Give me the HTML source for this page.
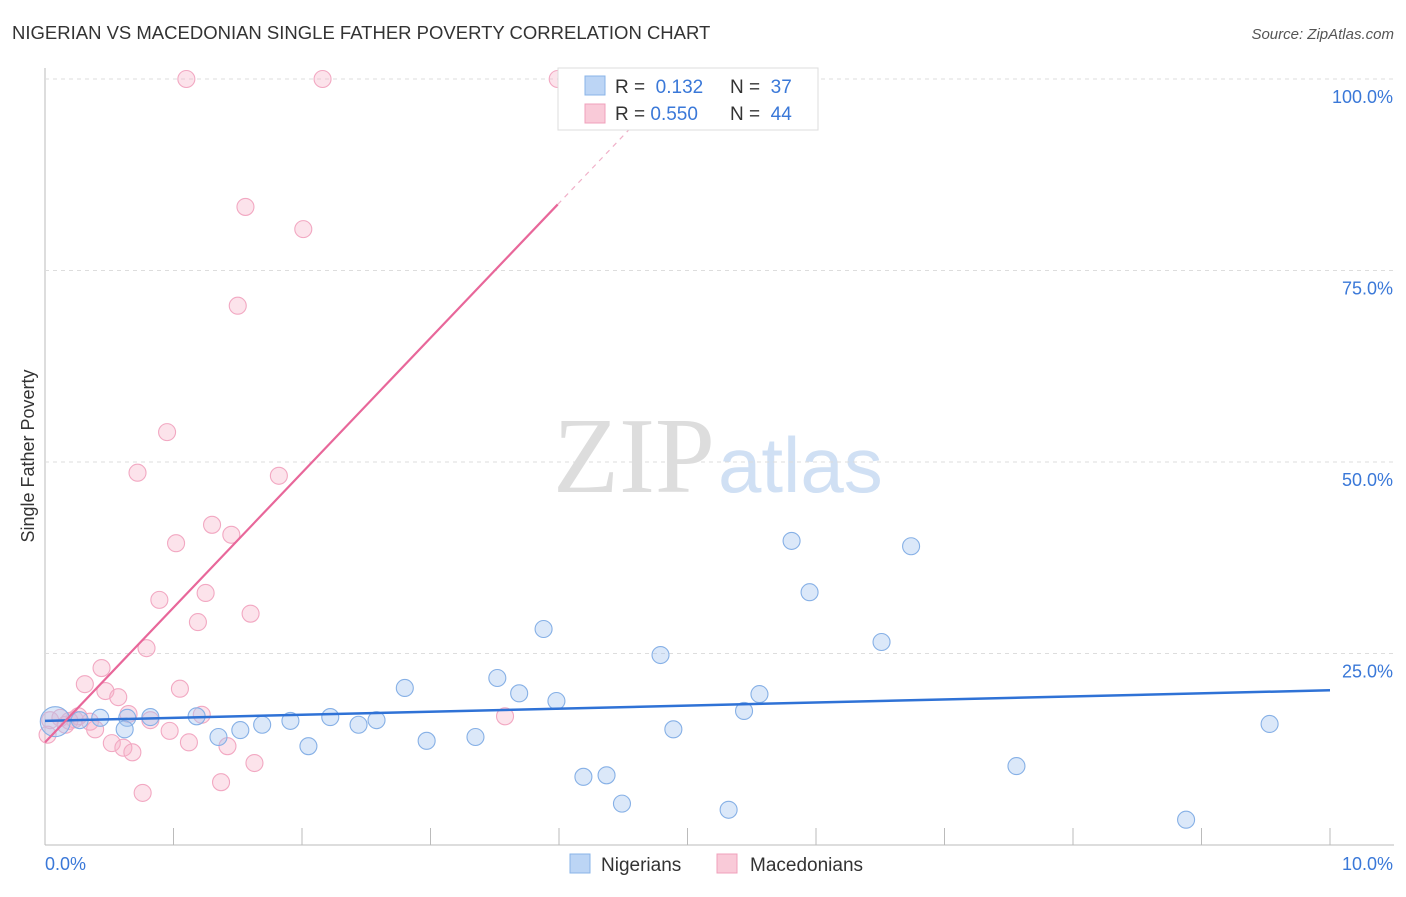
<!DOCTYPE html>
<html><head><meta charset="utf-8"><style>
body{margin:0;background:#fff;font-family:"Liberation Sans",sans-serif}
</style></head><body>
<svg id="c" width="1406" height="892" xmlns="http://www.w3.org/2000/svg">
<text x="12" y="39" font-size="18.5" fill="#333">NIGERIAN VS MACEDONIAN SINGLE FATHER POVERTY CORRELATION CHART</text>
<text x="1394" y="39" font-size="15" fill="#555" font-style="italic" text-anchor="end">Source: ZipAtlas.com</text>
<text x="0" y="0" transform="translate(34,456) rotate(-90)" font-size="18" fill="#333" text-anchor="middle">Single Father Poverty</text>
<text x="553" y="492" font-size="108" fill="#ddd" font-family="Liberation Serif">ZIP</text>
<text x="718" y="492" font-size="78" fill="#d0e0f4">atlas</text>
<g id="grid"></g><g id="pts"></g><g id="lines"></g>
<g>
<rect x="558" y="68" width="260" height="62" fill="#fff" stroke="#ddd"/>
<rect x="585" y="76" width="20" height="19" fill="#bcd5f5" stroke="#8ab4e8"/>
<rect x="585" y="104" width="20" height="19" fill="#f9cad8" stroke="#f0a0bb"/>
<text x="615" y="93" font-size="19" fill="#333">R = <tspan fill="#3a78d8">&#160;0.132</tspan></text>
<text x="730" y="93" font-size="19" fill="#333">N = <tspan fill="#3a78d8">&#160;37</tspan></text>
<text x="615" y="120" font-size="19" fill="#333">R = <tspan fill="#3a78d8">0.550</tspan></text>
<text x="730" y="120" font-size="19" fill="#333">N = <tspan fill="#3a78d8">&#160;44</tspan></text>
</g>
<g>
<rect x="570" y="854" width="20" height="19" fill="#bcd5f5" stroke="#8ab4e8"/>
<text x="601" y="871" font-size="19" fill="#333">Nigerians</text>
<rect x="717" y="854" width="20" height="19" fill="#f9cad8" stroke="#f0a0bb"/>
<text x="750" y="871" font-size="19" fill="#333">Macedonians</text>
</g>
</svg>
<script>
const xTicks=[0,1,2,3,4,5,6,7,8,9,10];
const yTicks=[25,50,75,100];
const nigX=[0.08,0.27,0.43,0.64,0.62,0.82,1.18,1.35,1.52,1.69,1.91,2.05,2.22,2.44,2.58,2.80,2.97,3.35,3.52,3.69,3.88,3.98,4.19,4.37,4.49,4.79,4.89,5.32,5.44,5.56,5.81,5.95,6.51,6.74,7.56,8.88,9.53];
const nigY=[16.1,16.3,16.6,16.6,15.1,16.7,16.8,14.1,15.0,15.7,16.2,12.9,16.7,15.7,16.3,20.5,13.6,14.1,21.8,19.8,28.2,18.8,8.9,9.1,5.4,24.8,15.1,4.6,17.5,19.7,39.7,33.0,26.5,39.0,10.3,3.3,15.8];
const macX=[1.10,2.16,3.99,1.56,2.01,1.50,0.95,0.72,1.82,1.30,1.45,1.02,0.89,1.25,1.60,1.19,0.79,0.44,0.31,1.05,0.47,0.57,0.65,1.22,3.58,0.04,0.12,0.23,0.35,0.39,0.97,0.52,0.61,0.68,1.12,1.42,1.63,1.37,0.76,0.02,0.16,0.26,0.19,0.82];
const macY=[100,100,100,83.3,80.4,70.4,53.9,48.6,48.2,41.8,40.5,39.4,32.0,32.9,30.2,29.1,25.7,23.1,21.0,20.4,20.1,19.3,17.1,17.0,16.8,16.3,16.6,16.4,16.1,15.1,14.9,13.3,12.7,12.1,13.4,12.9,10.7,8.2,6.8,14.4,15.7,16.8,16.2,16.3];
const nigTrend=[16.2,20.2];
const macTrend=[13.4,17.6];
const X=v=>45+v*128.5, Y=v=>845-v*7.66;
const NS="http://www.w3.org/2000/svg";
function mk(t,a,p){const e=document.createElementNS(NS,t);for(const k in a)e.setAttribute(k,a[k]);p.appendChild(e);return e;}
const g=document.getElementById('grid');
let ax=mk('line',{x1:45,y1:68,x2:45,y2:845,stroke:'#bbb'},g);


let bx=mk('line',{x1:45,y1:845,x2:1394,y2:845,stroke:'#bbb'},g);


yTicks.forEach(t=>{
 let l=mk('line',{x1:45,y1:Y(t),x2:1394,y2:Y(t),stroke:'#ddd','stroke-dasharray':'4,4'},g);
 
 
 let tx=mk('text',{x:1393,y:Y(t)+24,'font-size':18,fill:'#3a78d8','text-anchor':'end'},g);tx.textContent=t.toFixed(1)+'%';
 
 
});
xTicks.forEach(t=>{if(t>0){
 let l=mk('line',{x1:X(t),y1:828,x2:X(t),y2:845,stroke:'#bbb'},g);
 
 }});
[[0,'0.0%','start',45],[10,'10.0%','end',1393]].forEach(a=>{
 let tx=mk('text',{x:a[3],y:870,'font-size':18,fill:'#3a78d8','text-anchor':a[2]},g);tx.textContent=a[1];
 
 
});
const p=document.getElementById('pts');
macX.forEach((x,i)=>{let c=mk('circle',{cx:X(x),cy:Y(macY[i]),r:8.5,fill:'rgba(245,175,198,0.35)',stroke:'#f2a8c2','stroke-width':1.1},p);
 
 });
nigX.forEach((x,i)=>{let c=mk('circle',{cx:X(x),cy:Y(nigY[i]),r:i==0?15:8.5,fill:'rgba(165,198,240,0.4)',stroke:'#86b0e6','stroke-width':1.1},p);
 
 });
const L=document.getElementById('lines');
let bl=mk('line',{x1:X(0),y1:Y(nigTrend[0]),x2:X(10),y2:Y(nigTrend[1]),stroke:'#2f72d6','stroke-width':2.5},L);


const xe=3.99, xd=(100-macTrend[0])/macTrend[1];
let pl=mk('line',{x1:X(0),y1:Y(macTrend[0]),x2:X(xe),y2:Y(macTrend[0]+macTrend[1]*xe),stroke:'#e8679a','stroke-width':2.2},L);


let pd=mk('line',{x1:X(xe),y1:Y(macTrend[0]+macTrend[1]*xe),x2:X(xd),y2:Y(100),stroke:'#f0b0c8','stroke-width':1.2,'stroke-dasharray':'5,5'},L);


</script>
</body></html>
